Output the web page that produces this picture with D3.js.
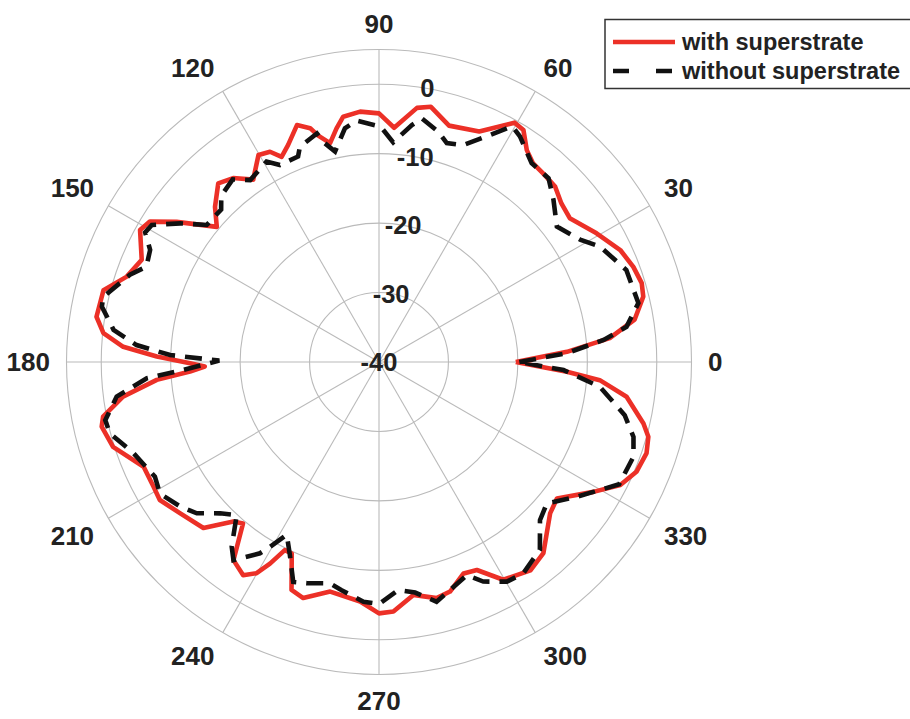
<!DOCTYPE html>
<html>
<head>
<meta charset="utf-8">
<script src="https://cdn.jsdelivr.net/npm/d3@7"></script>
<style>
  html, body { margin: 0; padding: 0; background: #ffffff; }
  svg { display: block; }
  text { font-family: "Liberation Sans", Arial, sans-serif; font-weight: bold; fill: #222; }
</style>
</head>
<body>
<svg id="chart" width="910" height="719"></svg>
<script>
// ---------------- data ----------------
const seriesNames = ["with superstrate", "without superstrate"];

const angleWith = [0, 3.1, 5.9, 9.4, 13.9, 16.7, 20.5, 24.9, 30.6, 37, 41, 44.9, 48.9, 52.2, 55.1, 58.1, 60.5,
  66.5, 73.5, 78.5, 81.5, 86.3, 90, 94.3, 98.3, 100.3, 102.6, 105.1, 106.4, 109.1, 112.7, 115.4, 117.4, 120.2,
  124.6, 128.4, 132, 136.6, 140.2, 145.3, 148.5, 151.1, 156.7, 161.3, 165.4, 170.9, 174, 176.6, 178.6, 180.4,
  181.5, 182.9, 184.6, 187.7, 191.2, 193.1, 197.7, 204, 208.9, 212.2, 217.2, 223.4, 227.6, 229.9, 233.7, 237.5,
  239.9, 241.6, 243.4, 245.5, 249, 252.2, 258, 265.5, 270, 273.3, 278.4, 283.7, 287.2, 291.8, 295.2, 299.7,
  306, 310.7, 318.5, 322.5, 328.8, 333, 336.9, 341.2, 344.5, 346.9, 352, 355.3, 357, 360];
const gainWith = [-20.3, -12.9, -6.6, -2.7, -0.8, -0.5, -0.9, -1.7, -3.6, -5.6, -5.2, -4.2, -4.0, -3.8, -2.8, -0.65, -0.4,
  -3.8, -4.5, -2.5, -3.0, -6.2, -4.2, -3.85, -4.3, -5.8, -7.7, -6.2, -4.9, -3.9, -6.1, -7.3, -5.9, -5.5,
  -8.1, -6.2, -5.4, -7.5, -9.6, -4.55, -1.3, -0.7, -2.8, -1.65, 1.0, 1.2, -0.1, -3.1, -8.0, -12.8,
  -14.9, -12.75, -7.9, -2.8, 0.5, 1.0, 0.2, -2.9, -2.9, -2.7, -4.0, -5.2, -8.9, -9.6, -4.6, -3.6,
  -4.85, -7.0, -9.7, -9.7, -4.85, -4.3, -6.2, -5.4, -3.8, -4.0, -6.1, -5.0, -5.4, -7.2, -6.9, -3.9,
  -2.9, -3.7, -7.1, -7.7, -3.9, -1.0, 0.3, 0.7, 0.25, -0.9, -4.0, -8.1, -12.9, -20.3];

const angleWithout = [0, 2.7, 5.6, 8.1, 12.8, 20.4, 27.6, 31.3, 37.3, 42.9, 47.3, 52.5, 58, 60.5, 63.9, 68.8,
  72.8, 75.6, 80, 82.1, 86.3, 89.6, 95.3, 98.3, 101.8, 103.9, 105.2, 110.2, 111.5, 116.7, 119.3, 125.3, 128.7,
  133.5, 136, 141.5, 145.1, 148.9, 151, 153.9, 157.7, 160.7, 166.7, 168.7, 173.1, 176, 178.1, 179.5, 182.5,
  184, 187.5, 192, 194.8, 200.4, 207.1, 211, 216, 219.7, 223.6, 227.1, 231.4, 233.7, 238.1, 239.5, 241.9,
  245.2, 248.7, 251.9, 257.5, 260.7, 266.3, 270, 274.8, 278.9, 283.5, 287.3, 292.4, 295.4, 300.2, 304.3,
  310.6, 315.5, 319.9, 325.7, 333, 339.6, 343.6, 347.8, 353.6, 357.5, 360];
const gainWithout = [-19.8, -12.9, -7.5, -4.0, -1.7, -2.0, -4.1, -6.1, -7.8, -5.7, -4.0, -3.9, -1.7, -1.0, -3.6, -6.5,
  -7.0, -5.75, -4.4, -5.55, -8.3, -6.1, -5.1, -6.0, -9.05, -7.55, -5.9, -7.0, -8.2, -8.25, -6.9, -7.9, -6.3,
  -7.0, -8.4, -8.3, -5.1, -1.8, -1.5, -3.3, -3.8, -2.0, 0.8, 0.7, -1.5, -5.0, -9.9, -17.0, -11.3,
  -6.5, -1.9, 0.3, 0.1, -2.3, -3.75, -3.2, -4.6, -5.9, -8.4, -9.9, -6.0, -4.6, -7.55, -9.1, -11.8,
  -9.4, -6.0, -6.5, -7.35, -6.7, -5.4, -5.15, -7.05, -6.4, -4.5, -5.6, -6.8, -5.0, -3.4, -3.15,
  -4.4, -7.5, -8.4, -5.55, -1.2, -0.9, -1.8, -3.8, -8.0, -13.4, -19.8];

const radialTicks = [-40, -30, -20, -10, 0];
const radialLimits = [-40, 5];
const angleTicks = [0, 30, 60, 90, 120, 150, 180, 210, 240, 270, 300, 330];

// ---------------- layout ----------------
const cx = 379, cy = 362, outerR = 312.5;
const svg = d3.select("#chart");
const r = d3.scaleLinear().domain(radialLimits).range([0, outerR]);
const rad = d => d * Math.PI / 180;
const g = svg.append("g").attr("transform", `translate(${cx},${cy})`);

const gridColor = "#bababa";
// rings
g.selectAll("circle.ring")
  .data(radialTicks.filter(t => t > radialLimits[0]).concat([radialLimits[1]]))
  .enter().append("circle")
  .attr("r", d => r(d))
  .attr("fill", "none")
  .attr("stroke", gridColor)
  .attr("stroke-width", 1.1);
// spokes
g.selectAll("line.spoke").data(angleTicks).enter().append("line")
  .attr("x1", 0).attr("y1", 0)
  .attr("x2", d => outerR * Math.cos(rad(d)))
  .attr("y2", d => -outerR * Math.sin(rad(d)))
  .attr("stroke", gridColor)
  .attr("stroke-width", 1.1);

// curves
const line = d3.lineRadial()
  .angle(d => Math.PI / 2 - rad(d[0]))
  .radius(d => r(d[1]))
  .curve(d3.curveLinear);

const dataWith = angleWith.map((a, i) => [a, gainWith[i]]);
const dataWithout = angleWithout.map((a, i) => [a, gainWithout[i]]);

g.append("path").datum(dataWith)
  .attr("d", line)
  .attr("fill", "none")
  .attr("stroke", "#ec3027")
  .attr("stroke-width", 4.6)
  .attr("stroke-linejoin", "round");

g.append("path").datum(dataWithout)
  .attr("d", line)
  .attr("fill", "none")
  .attr("stroke", "#111")
  .attr("stroke-width", 4.6)
  .attr("stroke-dasharray", "17,10");

// radial labels at 80 degrees
const rAxisAngle = 80;
g.selectAll("text.rlab").data(radialTicks).enter().append("text")
  .attr("x", d => r(d) * Math.cos(rad(rAxisAngle)))
  .attr("y", d => -r(d) * Math.sin(rad(rAxisAngle)))
  .attr("text-anchor", "middle")
  .attr("dominant-baseline", "central")
  .attr("font-size", 25.5)
  .text(d => d);

// angle labels: text box anchored at its corner/edge just outside the circle
const labelR = 329;
const halfH = 9.5;
const sgn = v => (Math.abs(v) < 1e-6 ? 0 : Math.sign(v));
g.selectAll("text.alab").data(angleTicks).enter().append("text")
  .attr("text-anchor", "middle")
  .attr("dominant-baseline", "central")
  .attr("font-size", 26)
  .text(d => d)
  .each(function(d) {
    const w = this.getComputedTextLength() / 2;
    const c = Math.cos(rad(d)), s = Math.sin(rad(d));
    d3.select(this)
      .attr("x", labelR * c + w * sgn(c))
      .attr("y", -(labelR * s + halfH * sgn(s)));
  });

// legend
const lg = svg.append("g");
lg.append("rect")
  .attr("x", 605).attr("y", 19.5).attr("width", 320).attr("height", 69)
  .attr("fill", "#fff").attr("stroke", "#333").attr("stroke-width", 1.5);
const legendRows = [
  { name: seriesNames[0], color: "#ec3027", dash: null, y: 42 },
  { name: seriesNames[1], color: "#111", dash: "16,27", y: 71 }
];
legendRows.forEach(d => {
  const l = lg.append("line")
    .attr("x1", 613).attr("x2", 675)
    .attr("y1", d.y).attr("y2", d.y)
    .attr("stroke", d.color).attr("stroke-width", 4.6);
  if (d.dash) l.attr("stroke-dasharray", d.dash);
  lg.append("text")
    .attr("x", 682).attr("y", d.y)
    .attr("dominant-baseline", "central")
    .attr("font-size", 23.5)
    .text(d.name);
});
</script>
</body>
</html>
